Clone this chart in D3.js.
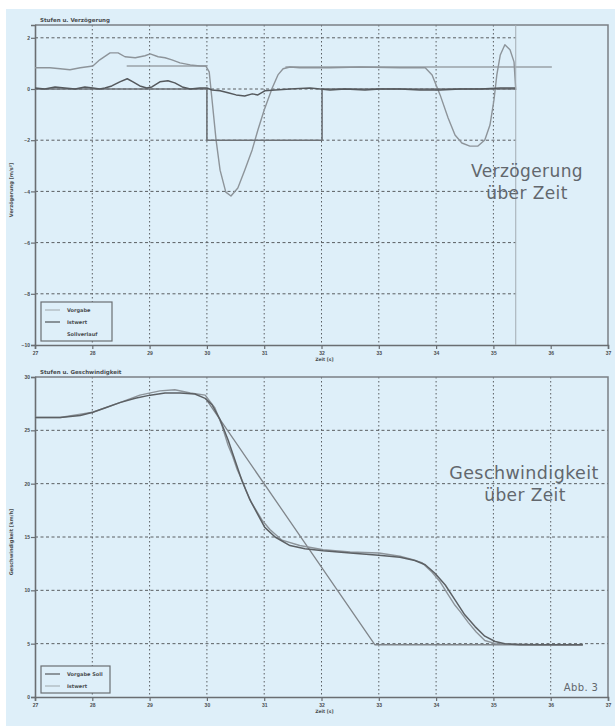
<!DOCTYPE html>
<html>
<head>
<meta charset="utf-8">
<script src="https://cdn.jsdelivr.net/npm/d3@7"></script>
<style>
  body { margin: 0; background: #fff; }
  svg { display: block; font-family: "DejaVu Sans", sans-serif; }
</style>
</head>
<body>
<svg id="chart"></svg>
<script>
// x ticks (Zeit in s)
const xTicks = [27, 28, 29, 30, 31, 32, 33, 34, 35, 36, 37];

// top chart: Verzoegerung
const decelTicks = [2, 0, -2, -4, -6, -8, -10];
// measured deceleration (light gray)
const decelMeasT = [27.00, 27.26, 27.44, 27.61, 27.79, 28.01, 28.13, 28.31, 28.45, 28.57, 28.75, 28.92, 29.01, 29.15, 29.27, 29.39, 29.53, 29.71, 29.88, 29.98, 30.04, 30.09, 30.16, 30.23, 30.33, 30.42, 30.54, 30.66, 30.79, 30.89, 31.00, 31.14, 31.24, 31.33, 31.45, 31.62, 32.15, 32.67, 33.37, 33.81, 33.93, 34.07, 34.21, 34.33, 34.45, 34.59, 34.73, 34.85, 34.94, 35.01, 35.06, 35.12, 35.20, 35.29, 35.36, 35.39];
const decelMeasV = [0.83, 0.83, 0.79, 0.75, 0.83, 0.90, 1.14, 1.41, 1.41, 1.26, 1.22, 1.30, 1.37, 1.26, 1.22, 1.14, 1.02, 0.94, 0.90, 0.90, 0.67, -0.43, -1.99, -3.17, -4.03, -4.18, -3.87, -3.17, -2.38, -1.60, -0.82, 0.04, 0.55, 0.79, 0.86, 0.83, 0.83, 0.86, 0.83, 0.83, 0.55, -0.23, -1.13, -1.80, -2.11, -2.23, -2.23, -1.99, -1.41, -0.43, 0.55, 1.33, 1.73, 1.53, 1.06, -0.04];
// reference level (gap where the curve dips)
const decelRefT = [28.60, 30.00, null, 31.37, 36.02];
const decelRefV = [0.90, 0.90, null, 0.86, 0.86];
// actual value (dark)
const decelIstT = [27.00, 27.17, 27.35, 27.52, 27.70, 27.87, 28.01, 28.13, 28.22, 28.34, 28.48, 28.61, 28.71, 28.83, 28.95, 29.04, 29.18, 29.32, 29.44, 29.57, 29.71, 29.88, 30.00, 30.09, 30.23, 30.37, 30.51, 30.66, 30.79, 30.89, 31.01, 31.19, 31.45, 31.80, 32.15, 32.41, 32.76, 33.02, 33.37, 33.72, 34.07, 34.42, 34.77, 35.12, 35.38];
const decelIstV = [0.04, 0.00, 0.08, 0.04, 0.00, 0.08, 0.04, 0.00, 0.04, 0.12, 0.28, 0.40, 0.28, 0.12, 0.04, 0.08, 0.28, 0.32, 0.24, 0.08, 0.00, 0.04, 0.04, -0.04, -0.07, -0.15, -0.23, -0.27, -0.19, -0.23, -0.07, -0.04, 0.00, 0.04, -0.04, 0.00, -0.04, 0.00, 0.00, -0.04, -0.04, 0.00, 0.00, 0.04, 0.04];
// set value step
const decelSollT = [27.00, 30.00, 30.00, 32.01, 32.01, 35.39];
const decelSollV = [0, 0, -2, -2, 0, 0];
const cursorT = 35.39;

// bottom chart: Geschwindigkeit
const speedTicks = [0, 5, 10, 15, 20, 25, 30];
const speedAT = [27.00, 27.44, 27.79, 28.01, 28.22, 28.48, 28.75, 29.01, 29.27, 29.53, 29.79, 29.97, 30.09, 30.23, 30.37, 30.49, 30.61, 30.75, 30.89, 31.01, 31.19, 31.45, 31.71, 32.03, 32.50, 33.00, 33.37, 33.63, 33.81, 33.98, 34.16, 34.33, 34.50, 34.68, 34.85, 35.03, 35.20, 35.46, 35.99, 36.56];
const speedAV = [26.2, 26.2, 26.4, 26.7, 27.1, 27.6, 28.0, 28.3, 28.5, 28.5, 28.4, 28.0, 27.4, 26.0, 24.1, 22.2, 20.3, 18.5, 17.1, 15.9, 15.0, 14.2, 13.9, 13.7, 13.5, 13.3, 13.1, 12.8, 12.4, 11.6, 10.5, 9.1, 7.7, 6.6, 5.7, 5.2, 5.0, 4.9, 4.9, 4.9];
const speedBT = [27.00, 27.44, 28.01, 28.48, 28.83, 29.18, 29.44, 29.71, 29.97, 30.14, 30.26, 30.37, 30.44, 30.53, 30.60, 30.68, 30.77, 30.86, 30.96, 31.10, 31.31, 31.62, 32.03, 32.50, 33.00, 33.37, 33.58, 33.75, 33.93, 34.07, 34.21, 34.33, 34.42, 34.56, 34.70, 34.85, 35.03, 35.81, 36.56];
const speedBV = [26.2, 26.2, 26.7, 27.6, 28.3, 28.7, 28.8, 28.5, 28.3, 27.1, 25.5, 23.6, 22.7, 21.3, 20.5, 19.4, 18.3, 17.5, 16.6, 15.7, 14.7, 14.2, 13.8, 13.6, 13.5, 13.2, 12.9, 12.6, 11.7, 10.8, 9.6, 8.6, 8.0, 7.0, 6.1, 5.3, 5.0, 4.9, 4.9];
const speedSollT = [30.00, 32.93, 36.56];
const speedSollV = [27.8, 4.9, 4.9];

const width = 615;
const height = 726;
const left = 35, right = 608;

const svg = d3.select('#chart')
  .attr('width', width)
  .attr('height', height);

svg.append('rect')
  .attr('x', 6).attr('y', 9)
  .attr('width', width - 6).attr('height', height - 9)
  .attr('fill', '#deeff9');

const zip = (ts, vs) => ts.map((t, i) => ({ t: t, v: vs[i] }));

function drawPanel(opt) {
  const x = d3.scaleLinear().domain([27, 37]).range([left, right]);
  const y = d3.scaleLinear().domain(opt.yDomain).range([opt.bottom, opt.top]);
  const g = svg.append('g');
  const gridRight = opt.gridRight ? x(opt.gridRight) : right;

  // grid
  g.selectAll('.hgrid')
    .data(opt.yTicks.filter(d => y(d) > opt.top + 1 && y(d) < opt.bottom - 1))
    .enter().append('line')
    .attr('x1', left).attr('x2', gridRight)
    .attr('y1', d => y(d)).attr('y2', d => y(d))
    .attr('stroke', '#5a5e62').attr('stroke-width', 1)
    .attr('stroke-dasharray', '3,2.5');
  g.selectAll('.vgrid')
    .data(xTicks.filter(d => d > 27 && d < 37 && x(d) <= gridRight))
    .enter().append('line')
    .attr('x1', d => x(d)).attr('x2', d => x(d))
    .attr('y1', opt.top).attr('y2', opt.bottom)
    .attr('stroke', '#5a5e62').attr('stroke-width', 1)
    .attr('stroke-dasharray', '1.5,2.5');

  // box
  g.append('path')
    .attr('d', `M${left},${opt.top}H${right}V${opt.bottom}`)
    .attr('fill', 'none').attr('stroke', '#7b8085').attr('stroke-width', 1.5);

  // axes
  const xAxis = g.append('g')
    .attr('transform', `translate(0,${opt.bottom})`)
    .call(d3.axisBottom(x).tickValues(xTicks).tickSize(4).tickPadding(2));
  const yAxis = g.append('g')
    .attr('transform', `translate(${left},0)`)
    .call(d3.axisLeft(y).tickValues(opt.yTicks).tickSize(4).tickPadding(1));
  [xAxis, yAxis].forEach(a => {
    a.select('.domain').attr('stroke', '#6a6e72').attr('stroke-width', 1.6);
    a.selectAll('.tick line').attr('stroke', '#6a6e72').attr('stroke-width', 1.2);
    a.selectAll('.tick text').attr('fill', '#4a4d50').attr('font-size', 5).attr('font-weight', 'bold');
  });

  // titles
  g.append('text')
    .attr('x', 40).attr('y', opt.top - 3)
    .attr('font-size', 5.5).attr('font-weight', 'bold').attr('fill', '#4a4d50')
    .text(opt.title);
  g.append('text')
    .attr('x', x(32.05)).attr('y', opt.bottom + 16)
    .attr('text-anchor', 'middle')
    .attr('font-size', 4.5).attr('font-weight', 'bold').attr('fill', '#4a4d50')
    .text('Zeit [s]');
  g.append('text')
    .attr('transform', `translate(13,${(opt.top + opt.bottom) / 2 + 5}) rotate(-90)`)
    .attr('text-anchor', 'middle')
    .attr('font-size', 5).attr('font-weight', 'bold').attr('fill', '#4a4d50')
    .text(opt.yLabel);

  const line = d3.line()
    .defined(d => d.t !== null)
    .x(d => x(d.t)).y(d => y(d.v));

  opt.series.forEach(s => {
    g.append('path')
      .datum(zip(s.t, s.v))
      .attr('d', line)
      .attr('fill', 'none')
      .attr('stroke', s.color).attr('stroke-width', s.w)
      .attr('stroke-linejoin', 'round');
  });

  // legend
  const lg = g.append('g').attr('transform', `translate(41,${opt.legendY})`);
  lg.append('rect')
    .attr('width', opt.legendW).attr('height', opt.legend.length * 12 + 3)
    .attr('fill', '#deeff9').attr('stroke', '#6a6e72').attr('stroke-width', 1.2);
  opt.legend.forEach((d, i) => {
    lg.append('line')
      .attr('x1', 4).attr('x2', 19)
      .attr('y1', 8 + i * 12).attr('y2', 8 + i * 12)
      .attr('stroke', d.color).attr('stroke-width', 1.2);
    lg.append('text')
      .attr('x', 26).attr('y', 10 + i * 12)
      .attr('font-size', 5).attr('font-weight', 'bold').attr('fill', '#4a4d50')
      .text(d.label);
  });

  return { x: x, y: y, g: g };
}

const decelPanel = drawPanel({
  top: 25, bottom: 345,
  yDomain: [-10, 2.5], yTicks: decelTicks,
  gridRight: cursorT,
  title: 'Stufen u. Verzögerung',
  yLabel: 'Verzögerung [m/s²]',
  legendY: 302, legendW: 71,
  legend: [
    { label: 'Vorgabe', color: '#a9b2b8' },
    { label: 'Istwert', color: '#4e5256' },
    { label: 'Sollverlauf', color: '#deeff9' }
  ],
  series: [
    { t: decelRefT, v: decelRefV, color: '#9aa2a8', w: 1.5 },
    { t: decelMeasT, v: decelMeasV, color: '#8d949a', w: 1.4 },
    { t: decelSollT, v: decelSollV, color: '#6e7378', w: 1.6 },
    { t: decelIstT, v: decelIstV, color: '#55595d', w: 1.5 }
  ]
});

// cursor line at end of record
decelPanel.g.append('line')
  .attr('x1', decelPanel.x(cursorT)).attr('x2', decelPanel.x(cursorT))
  .attr('y1', 25).attr('y2', 345)
  .attr('stroke', '#a4adb3').attr('stroke-width', 1);

drawPanel({
  top: 377, bottom: 697,
  yDomain: [0, 30], yTicks: speedTicks,
  title: 'Stufen u. Geschwindigkeit',
  yLabel: 'Geschwindigkeit [km/h]',
  legendY: 666, legendW: 69,
  legend: [
    { label: 'Vorgabe Soll', color: '#55595d' },
    { label: 'Istwert', color: '#a9b2b8' }
  ],
  series: [
    { t: speedSollT, v: speedSollV, color: '#80868b', w: 1.3 },
    { t: speedBT, v: speedBV, color: '#8d949a', w: 1.4 },
    { t: speedAT, v: speedAV, color: '#5c6064', w: 1.5 }
  ]
});

// annotations
const note = (txt, x, y, size) => svg.append('text')
  .attr('x', x).attr('y', y)
  .attr('text-anchor', 'middle')
  .attr('font-size', size).attr('fill', '#62676d')
  .attr('letter-spacing', 0.4)
  .text(txt);
note('Verzögerung', 527, 177, 17);
note('über Zeit', 527, 199, 17);
note('Geschwindigkeit', 524, 479, 17.5);
note('über Zeit', 525, 501, 17);
note('Abb. 3', 581, 691, 10);
</script>
</body>
</html>
